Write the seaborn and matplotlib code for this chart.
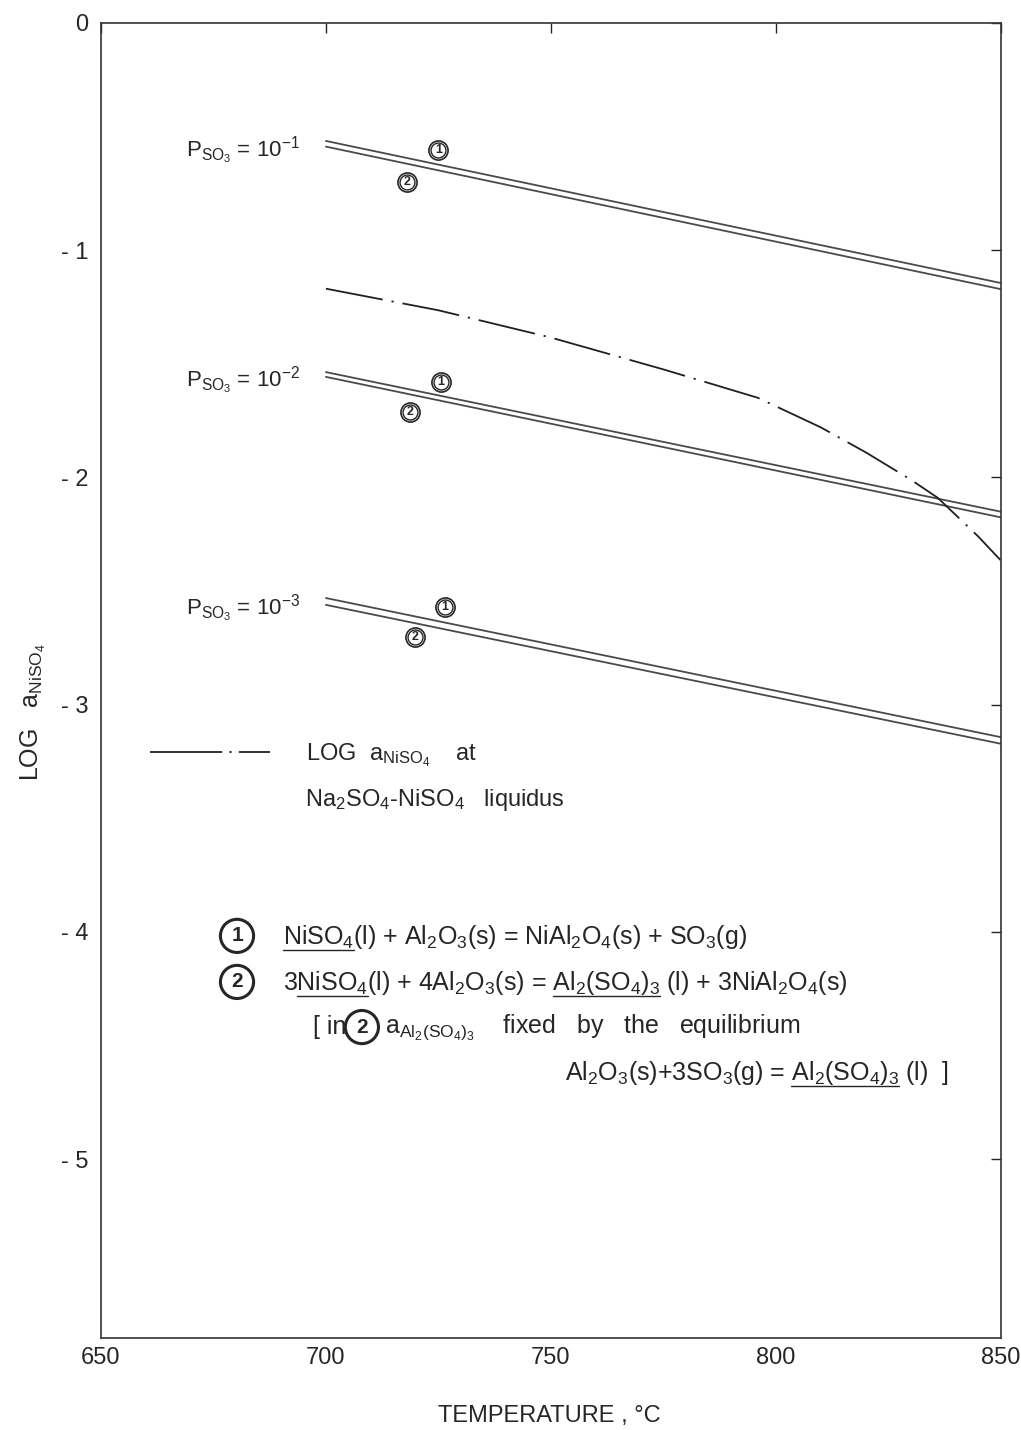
import numpy as np
import pandas as pd
import matplotlib
matplotlib.use("Agg")
import matplotlib.pyplot as plt
import seaborn as sns
from matplotlib.lines import Line2D
from matplotlib.text import Text

# ---------------- data ----------------
T_ENDS = [700, 850]
PRESSURE_LABELS = ["10$^{-1}$", "10$^{-2}$", "10$^{-3}$"]
PRESSURE_LABEL_T = [669, 669, 669]
PRESSURE_LABEL_Y = [-0.565, -1.577, -2.578]
# reaction (1) and reaction (2) lines, log a(NiSO4) at 700 and 850 C
R1_LOGA = [[-0.52, -1.145], [-1.537, -2.151], [-2.531, -3.143]]
R2_LOGA = [[-0.545, -1.172], [-1.558, -2.176], [-2.561, -3.172]]
# circled labels on the lines
M1_T = [725.0, 725.5, 726.5]
M1_Y = [-0.562, -1.580, -2.570]
M2_T = [718.0, 718.7, 719.8]
M2_Y = [-0.699, -1.714, -2.702]
# Na2SO4-NiSO4 liquidus
T_LIQ = [700, 725, 750, 775, 796, 810, 820, 830, 836, 845, 850]
LOGA_LIQ = [-1.17, -1.265, -1.385, -1.525, -1.65, -1.78, -1.89, -2.01, -2.09, -2.26, -2.365]

X_TICKS = [650, 700, 750, 800, 850]
Y_TICKS = [0, -1, -2, -3, -4, -5]
Y_TICK_LABELS = ["0", "- 1", "- 2", "- 3", "- 4", "- 5"]

# ---------------- style ----------------
sns.set_theme(style="white")
plt.rcParams["font.family"] = ["Liberation Sans", "DejaVu Sans"]
plt.rcParams["mathtext.fontset"] = "custom"
plt.rcParams["mathtext.rm"] = "Liberation Sans"
plt.rcParams["mathtext.it"] = "Liberation Sans:italic"
plt.rcParams["mathtext.bf"] = "Liberation Sans:bold"

INK = "#262626"
LINE = "#4a4a4a"
LIQ_DASH = [32, 5, 1.2, 5]

fig = plt.figure(figsize=(10.21, 14.30), dpi=100)
ax = fig.add_axes([0.0989, 0.0641, 0.8812, 0.9200])
ax.set_xlim(650, 850)
ax.set_ylim(-5.788, 0)

for i in range(3):
    d1 = pd.DataFrame({"T": T_ENDS, "logA": R1_LOGA[i]})
    d2 = pd.DataFrame({"T": T_ENDS, "logA": R2_LOGA[i]})
    sns.lineplot(data=d1, x="T", y="logA", ax=ax, color=LINE, lw=1.3)
    sns.lineplot(data=d2, x="T", y="logA", ax=ax, color=LINE, lw=1.3)
    ax.text(PRESSURE_LABEL_T[i], PRESSURE_LABEL_Y[i],
            r"$\mathrm{P_{SO_3}}$ = " + PRESSURE_LABELS[i],
            fontsize=16, color=INK, ha="left", va="center")

# liquidus (dash-dot)
d_liq = pd.DataFrame({"T": T_LIQ, "logA": LOGA_LIQ})
sns.lineplot(data=d_liq, x="T", y="logA", ax=ax, color="#202020", lw=1.3)
ax.lines[-1].set_dashes(LIQ_DASH)

# circled markers
for ts, ys, num in [(M1_T, M1_Y, "1"), (M2_T, M2_Y, "2")]:
    ax.scatter(ts, ys, s=190, facecolor="white", edgecolor=INK, lw=1.2, zorder=4)
    ax.scatter(ts, ys, s=115, facecolor="white", edgecolor=INK, lw=1.0, zorder=5)
    for t, y in zip(ts, ys):
        ax.text(t, y, num, fontsize=9, fontweight="bold", color=INK,
                ha="center", va="center", zorder=6)

# legend for the liquidus line
handle = Line2D([], [], color="#202020", lw=1.3, dashes=[40, 4, 1.2, 4])
ax.legend([handle], [r"LOG  $\mathrm{a_{NiSO_4}}$    at"], loc="center left",
          bbox_to_anchor=(0.0545, 0.4430), frameon=False, fontsize=17,
          handlelength=5.1, handletextpad=1.5, borderpad=0, borderaxespad=0,
          labelcolor=INK)
ax.text(0.2267, 0.4093, r"Na$_2$SO$_4$-NiSO$_4$   liquidus", transform=ax.transAxes,
        fontsize=17, color=INK, ha="left", va="center")

# equations block
circ = dict(boxstyle="circle,pad=0.34", fc="white", ec=INK, lw=2.2)
ax.text(0.1512, 0.3059, "1", transform=ax.transAxes, fontsize=15, fontweight="bold",
        color=INK, ha="center", va="center", bbox=circ)
ax.text(0.1512, 0.2709, "2", transform=ax.transAxes, fontsize=15, fontweight="bold",
        color=INK, ha="center", va="center", bbox=circ)
ax.text(0.2900, 0.2366, "2", transform=ax.transAxes, fontsize=15, fontweight="bold",
        color=INK, ha="center", va="center", bbox=circ)

eq1 = r"NiSO$_4$(l) + Al$_2$O$_3$(s) = NiAl$_2$O$_4$(s) + SO$_3$(g)"
eq2 = r"3NiSO$_4$(l) + 4Al$_2$O$_3$(s) = Al$_2$(SO$_4$)$_3$ (l) + 3NiAl$_2$O$_4$(s)"
eq3a = "[ in"
eq3b = r"$\mathrm{a_{Al_2(SO_4)_3}}$    fixed   by   the   equilibrium"
eq4 = r"Al$_2$O$_3$(s)+3SO$_3$(g) = Al$_2$(SO$_4$)$_3$ (l)  ]"

kw = dict(transform=ax.transAxes, fontsize=18, color=INK, ha="left", va="center")
t1 = ax.text(0.2023, 0.3050, eq1, **kw)
t2 = ax.text(0.2023, 0.2700, eq2, **kw)
ax.text(0.2356, 0.2366, eq3a, **kw)
ax.text(0.3157, 0.2366, eq3b, **kw)
t4 = ax.text(0.5157, 0.2017, eq4, **kw)

# axes styling
ax.set_xticks(X_TICKS)
ax.set_xticklabels([str(v) for v in X_TICKS])
ax.set_yticks(Y_TICKS)
ax.set_yticklabels(Y_TICK_LABELS)
ax.tick_params(direction="in", length=7, width=1, top=True, right=True,
               labelsize=17, colors=INK)
ax.tick_params(axis="x", pad=6)
ax.tick_params(axis="y", pad=9)
for sp in ax.spines.values():
    sp.set_color("#333333")
    sp.set_linewidth(1.2)
ax.set_xlabel("TEMPERATURE , °C", fontsize=17, color=INK)
ax.xaxis.set_label_coords(0.4985, -0.0505)
ax.set_ylabel(r"LOG   $\mathrm{a_{NiSO_4}}$", fontsize=18, color=INK)
ax.yaxis.set_label_coords(-0.059, 0.476)

# underlines under selected species
fig.canvas.draw()
renderer = fig.canvas.get_renderer()


def text_width(s, fp):
    t = Text(0, 0, s, fontproperties=fp)
    t.set_figure(fig)
    return t.get_window_extent(renderer).width


def underline(artist, prefix, piece):
    fp = artist.get_fontproperties()
    bb = artist.get_window_extent(renderer)
    x1 = bb.x0 + text_width(prefix, fp)
    x0 = x1 - text_width(piece, fp)
    y = bb.y0 + 1
    (fx0, fy), (fx1, _) = fig.transFigure.inverted().transform([(x0, y), (x1, y)])
    fig.add_artist(Line2D([fx0, fx1], [fy, fy], color=INK, lw=1.0))


underline(t1, r"NiSO$_4$", r"NiSO$_4$")
underline(t2, r"3NiSO$_4$", r"NiSO$_4$")
underline(t2, r"3NiSO$_4$(l) + 4Al$_2$O$_3$(s) = Al$_2$(SO$_4$)$_3$", r"Al$_2$(SO$_4$)$_3$")
underline(t4, r"Al$_2$O$_3$(s)+3SO$_3$(g) = Al$_2$(SO$_4$)$_3$", r"Al$_2$(SO$_4$)$_3$")

fig.savefig("out.png", dpi=100, facecolor="white")
